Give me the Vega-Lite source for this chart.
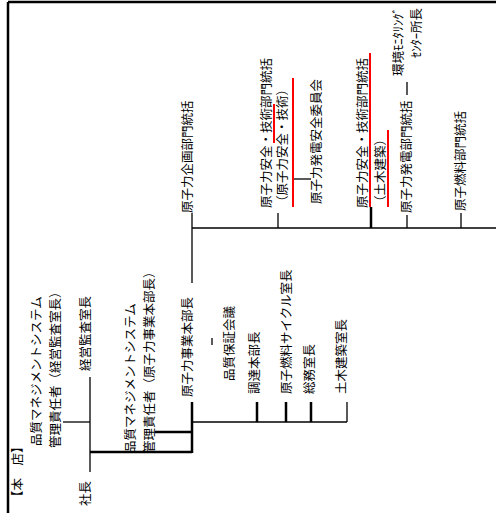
{
  "$schema": "https://vega.github.io/schema/vega-lite/v6.json",
  "width": 496,
  "height": 515,
  "padding": 0,
  "autosize": {"type": "none"},
  "background": "white",
  "config": {"view": {"stroke": null}},
  "datasets": {
    "labels": [
      {"label": "原子力企画部門統括", "x": 188, "y": 213},
      {"label": "原子力安全・技術部門統括", "x": 267, "y": 208},
      {"label": "（原子力安全・技術）", "x": 283, "y": 208},
      {"label": "原子力発電安全委員会", "x": 317, "y": 204},
      {"label": "原子力安全・技術部門統括", "x": 363, "y": 208},
      {"label": "（土木建築）", "x": 381, "y": 208},
      {"label": "原子力発電部門統括", "x": 407, "y": 213},
      {"label": "環境ﾓﾆﾀﾘﾝｸﾞ", "x": 399, "y": 76},
      {"label": "ｾﾝﾀｰ所長", "x": 417, "y": 58},
      {"label": "原子燃料部門統括", "x": 461, "y": 211},
      {"label": "【本　店】", "x": 18, "y": 503},
      {"label": "品質マネジメントシステム", "x": 37, "y": 446},
      {"label": "管理責任者（経営監査室長）", "x": 56, "y": 448},
      {"label": "経営監査室長", "x": 86, "y": 371},
      {"label": "社長", "x": 86, "y": 506},
      {"label": "品質マネジメントシステム", "x": 131, "y": 453},
      {"label": "管理責任者（原子力事業本部長）", "x": 150, "y": 453},
      {"label": "原子力事業本部長", "x": 188, "y": 397},
      {"label": "品質保証会議", "x": 230, "y": 381},
      {"label": "調達本部長", "x": 255, "y": 394},
      {"label": "原子燃料サイクル室長", "x": 287, "y": 394},
      {"label": "総務室長", "x": 310, "y": 394},
      {"label": "土木建築室長", "x": 342, "y": 394}
    ],
    "thin": [
      {"x": 192, "y": 228, "x2": 496, "y2": 228},
      {"x": 192, "y": 213, "x2": 192, "y2": 283},
      {"x": 278, "y": 213, "x2": 278, "y2": 228},
      {"x": 407, "y": 215, "x2": 407, "y2": 228},
      {"x": 461, "y": 213, "x2": 461, "y2": 228},
      {"x": 293, "y": 179, "x2": 311, "y2": 179},
      {"x": 407, "y": 82, "x2": 407, "y2": 95},
      {"x": 90, "y": 377, "x2": 90, "y2": 472},
      {"x": 63, "y": 422, "x2": 90, "y2": 422},
      {"x": 192, "y": 422, "x2": 347, "y2": 422},
      {"x": 347, "y": 402, "x2": 347, "y2": 422},
      {"x": 212, "y": 338, "x2": 212, "y2": 345}
    ],
    "thick": [
      {"x": 8, "y": 2, "x2": 8, "y2": 513},
      {"x": 8, "y": 2, "x2": 496, "y2": 2},
      {"x": 371, "y": 207, "x2": 371, "y2": 228},
      {"x": 90, "y": 452, "x2": 192, "y2": 452},
      {"x": 192, "y": 402, "x2": 192, "y2": 453},
      {"x": 155, "y": 432, "x2": 192, "y2": 432},
      {"x": 257, "y": 402, "x2": 257, "y2": 422},
      {"x": 286, "y": 402, "x2": 286, "y2": 422},
      {"x": 311, "y": 402, "x2": 311, "y2": 422}
    ],
    "red": [
      {"x": 274, "y": 104, "x2": 274, "y2": 143},
      {"x": 293, "y": 78, "x2": 293, "y2": 207},
      {"x": 370, "y": 53, "x2": 370, "y2": 207},
      {"x": 388, "y": 130, "x2": 388, "y2": 207}
    ]
  },
  "layer": [
    {
      "data": {"name": "thin"},
      "mark": {"type": "rule", "color": "black", "strokeWidth": 1.3},
      "encoding": {
        "x": {"field": "x", "type": "quantitative", "scale": {"domain": [0, 496], "nice": false, "zero": false}, "axis": null},
        "y": {"field": "y", "type": "quantitative", "scale": {"domain": [0, 515], "nice": false, "zero": false, "reverse": true}, "axis": null},
        "x2": {"field": "x2"},
        "y2": {"field": "y2"}
      }
    },
    {
      "data": {"name": "thick"},
      "mark": {"type": "rule", "color": "black", "strokeWidth": 2.5},
      "encoding": {
        "x": {"field": "x", "type": "quantitative", "scale": {"domain": [0, 496], "nice": false, "zero": false}, "axis": null},
        "y": {"field": "y", "type": "quantitative", "scale": {"domain": [0, 515], "nice": false, "zero": false, "reverse": true}, "axis": null},
        "x2": {"field": "x2"},
        "y2": {"field": "y2"}
      }
    },
    {
      "data": {"name": "red"},
      "mark": {"type": "rule", "color": "#ff0000", "strokeWidth": 2},
      "encoding": {
        "x": {"field": "x", "type": "quantitative", "scale": {"domain": [0, 496], "nice": false, "zero": false}, "axis": null},
        "y": {"field": "y", "type": "quantitative", "scale": {"domain": [0, 515], "nice": false, "zero": false, "reverse": true}, "axis": null},
        "x2": {"field": "x2"},
        "y2": {"field": "y2"}
      }
    },
    {
      "data": {"name": "labels"},
      "mark": {"type": "text", "angle": 270, "align": "left", "baseline": "middle", "font": "Noto Sans CJK JP", "fontSize": 12.5, "color": "black"},
      "encoding": {
        "x": {"field": "x", "type": "quantitative", "scale": {"domain": [0, 496], "nice": false, "zero": false}, "axis": null},
        "y": {"field": "y", "type": "quantitative", "scale": {"domain": [0, 515], "nice": false, "zero": false, "reverse": true}, "axis": null},
        "text": {"field": "label"}
      }
    }
  ]
}
